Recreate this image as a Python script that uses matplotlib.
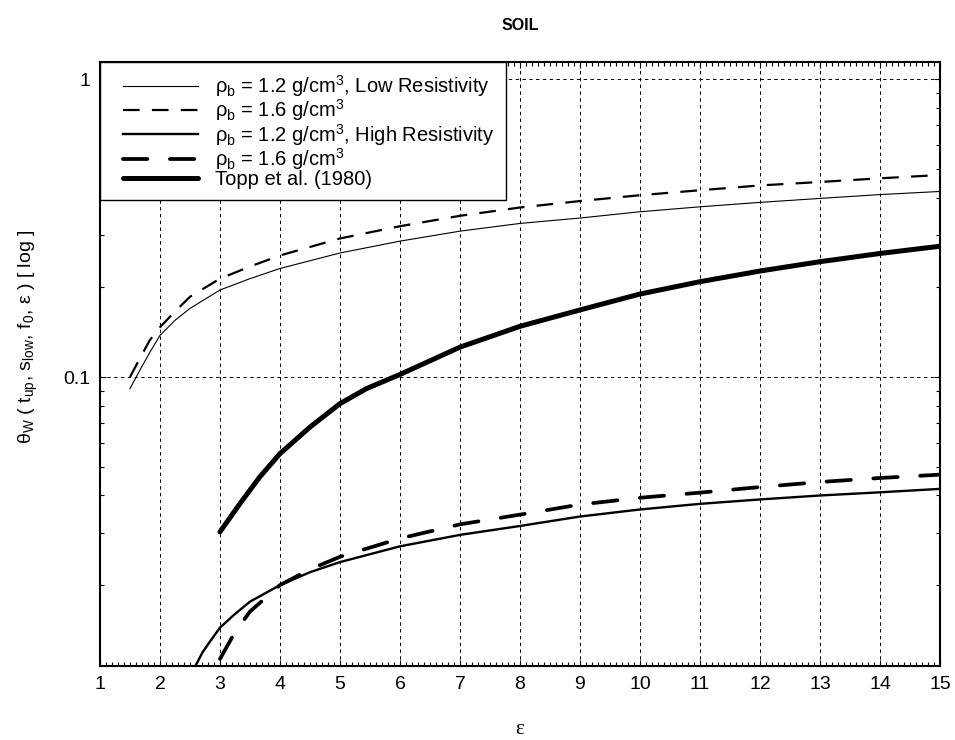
import numpy as np
import matplotlib as mpl
mpl.use('Agg')
import matplotlib.pyplot as plt
from matplotlib.lines import Line2D
from matplotlib.legend_handler import HandlerLine2D
from matplotlib.ticker import MultipleLocator, LogLocator, FixedLocator, FixedFormatter, NullFormatter

plt.rcParams['font.family'] = ['Liberation Sans', 'DejaVu Sans']
plt.rcParams['mathtext.fontset'] = 'custom'
plt.rcParams['mathtext.rm'] = 'Liberation Sans'
plt.rcParams['mathtext.it'] = 'Liberation Sans:italic'

# values
eps_low = [1.5, 1.66, 1.83, 2, 2.25, 2.5, 3, 3.5, 4, 5, 6, 7, 8, 9, 10, 11, 12, 13, 14, 15]
low_12 = [0.0914, 0.105, 0.121, 0.138, 0.155, 0.170, 0.196, 0.214, 0.2315, 0.261, 0.286,
          0.309, 0.328, 0.342, 0.359, 0.373, 0.386, 0.398, 0.410, 0.420]
low_16 = [0.100, 0.115, 0.133, 0.147, 0.166, 0.186, 0.214, 0.235, 0.256, 0.292, 0.321,
          0.348, 0.371, 0.390, 0.408, 0.424, 0.440, 0.452, 0.465, 0.477]

eps_h12 = [2.59, 2.71, 2.83, 3, 3.25, 3.5, 4, 4.5, 5, 6, 7, 8, 9, 10, 11, 12, 13, 14, 15]
high_12 = [0.0107, 0.0119, 0.0129, 0.0144, 0.0160, 0.0176, 0.0200, 0.0221, 0.0239, 0.0270,
           0.0295, 0.0316, 0.0340, 0.0359, 0.0375, 0.0388, 0.0400, 0.0410, 0.0421]

eps_h16 = [3, 3.25, 3.5, 4, 4.5, 5, 6, 7, 8, 9, 10, 11, 12, 13, 14, 15]
high_16 = [0.0113, 0.0139, 0.0163, 0.0200, 0.0226, 0.0249, 0.0287, 0.0320, 0.0345,
           0.0373, 0.0393, 0.0409, 0.0427, 0.0444, 0.0458, 0.0470]

eps_topp = [3, 3.33, 3.66, 4, 4.5, 5, 5.44, 6, 7, 8, 9, 10, 11, 12, 13, 14, 15]
topp = [0.0302, 0.0375, 0.0461, 0.0553, 0.0679, 0.0814, 0.0914, 0.102, 0.126, 0.148,
        0.168, 0.190, 0.209, 0.227, 0.244, 0.260, 0.275]

labels = ['ρ$_\\mathrm{b}$ = 1.2 g/cm$^\\mathrm{3}$, Low Resistivity',
          'ρ$_\\mathrm{b}$ = 1.6 g/cm$^\\mathrm{3}$',
          'ρ$_\\mathrm{b}$ = 1.2 g/cm$^\\mathrm{3}$, High Resistivity',
          'ρ$_\\mathrm{b}$ = 1.6 g/cm$^\\mathrm{3}$',
          'Topp et al. (1980)']

# figure canvas
fig = plt.figure(figsize=(9.55, 7.4), dpi=100)
ax = fig.add_axes((0.1047, 0.1, 0.8796, 0.8162))

ax.plot(eps_low, low_12, color='black', lw=0.8, label=labels[0])
ax.plot(eps_low, low_16, color='black', lw=1.6, ls=(0, (7.5, 5.5)), label=labels[1])
ax.plot(eps_h12, high_12, color='black', lw=1.7, label=labels[2])
ax.plot(eps_h16, high_16, color='black', lw=2.7, ls=(0, (6.5, 6.0)),
        dash_capstyle='round', label=labels[3])
ax.plot(eps_topp, topp, color='black', lw=3.6, solid_capstyle='round', label=labels[4])

ax.set_yscale('log')
ax.set_xlim(1, 15)
ax.set_ylim(0.0107, 1.143)

ax.xaxis.set_major_locator(MultipleLocator(1))
ax.xaxis.set_minor_locator(MultipleLocator(0.1))
ax.yaxis.set_major_locator(FixedLocator([0.01, 0.1, 1]))
ax.yaxis.set_major_formatter(FixedFormatter(['0.01', '0.1', '1']))
ax.yaxis.set_minor_locator(LogLocator(base=10, subs=np.arange(2, 10)))
ax.yaxis.set_minor_formatter(NullFormatter())

ax.tick_params(which='both', direction='in', top=True, right=True, labelsize=14)
ax.tick_params(which='major', length=4, width=0.8)
ax.tick_params(which='minor', length=3, width=0.8)
ax.tick_params(axis='x', pad=7)
ax.tick_params(axis='y', pad=7)

ax.grid(True, which='major', color='black', lw=0.7, ls=(0, (3.5, 3.5)))
for s in ax.spines.values():
    s.set_linewidth(1.5)

ax.set_title('SOIL', fontsize=11.5, fontweight='bold', pad=23)
ax.set_xlabel('ε', family='Liberation Serif', fontsize=15, labelpad=19.5)
ax.set_ylabel('θ$_\\mathrm{W}$ ( t$_\\mathrm{up}$, s$_\\mathrm{low}$, f$_\\mathrm{0}$, ε ) [ log ]',
              fontsize=14)
ax.yaxis.set_label_coords(-0.072, 0.545)

# legend with the handle pushed in from the frame
leg = ax.legend(loc='upper left', borderaxespad=0, fontsize=14.5, handlelength=4.32,
                handletextpad=0.85, labelspacing=-0.08, borderpad=0.55, fancybox=False,
                framealpha=1, edgecolor='black',
                handler_map={Line2D: HandlerLine2D(xpad=0.6)})
leg.get_frame().set_linewidth(1.0)

fig.savefig('out.png', dpi=100)
